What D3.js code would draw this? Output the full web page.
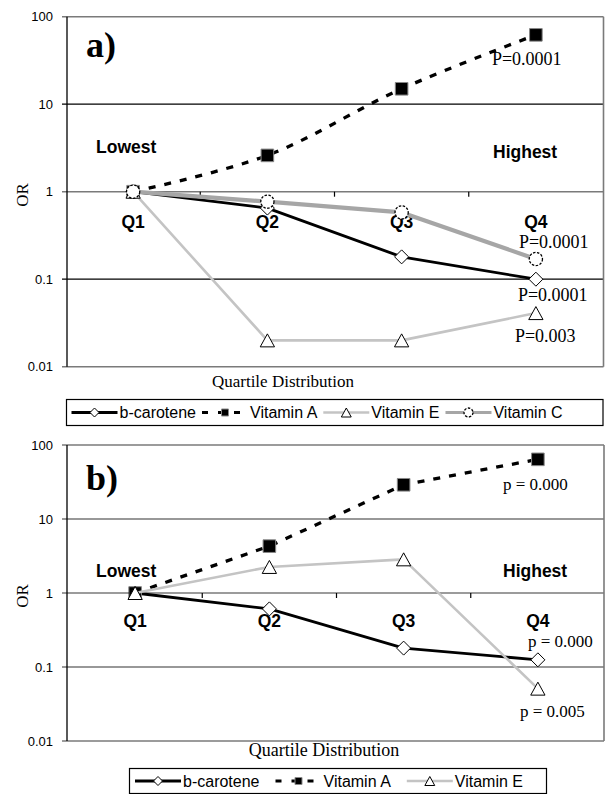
<!DOCTYPE html>
<html>
<head>
<meta charset="utf-8">
<script src="https://cdn.jsdelivr.net/npm/d3@7"></script>
<style>
  body { margin: 0; background: #fff; }
  .tick-label { font-family: "Liberation Sans", Arial, sans-serif; font-size: 13px; }
  .q-label, .end-label { font-family: "Liberation Sans", Arial, sans-serif; font-weight: bold; }
  .serif { font-family: "Liberation Serif", "Times New Roman", serif; }
  .legend-text { font-family: "Liberation Sans", Arial, sans-serif; }
</style>
</head>
<body>
<script>
// Categories and series values
const quartiles = ["Q1", "Q2", "Q3", "Q4"];
const yTicks = [0.01, 0.1, 1, 10, 100];
const yTickLabels = ["0.01", "0.1", "1", "10", "100"];

// Panel a)
const betaCaroteneA = [1, 0.65, 0.18, 0.1];
const vitaminAA = [1, 2.6, 15, 62];
const vitaminEA = [1, 0.02, 0.02, 0.041];
const vitaminCA = [1, 0.77, 0.58, 0.17];
const pValuesA = ["P=0.0001", "P=0.0001", "P=0.003", "P=0.0001"]; // b-car, vit A, vit E, vit C

// Panel b)
const betaCaroteneB = [1, 0.61, 0.18, 0.125];
const vitaminAB = [1, 4.3, 29, 64];
const vitaminEB = [1, 2.25, 2.85, 0.051];
const pValuesB = ["p = 0.000", "p = 0.000", "p = 0.005"];

const seriesNames = ["b-carotene", "Vitamin A", "Vitamin E", "Vitamin C"];

const svg = d3.select("body").append("svg")
    .attr("width", 605)
    .attr("height", 794);

// Marker shapes, all centred on the data point
const markerPaths = {
    diamond: s => `M0,${-s}L${s},0L0,${s}L${-s},0Z`,
    square: s => `M${-s},${-s}H${s}V${s}H${-s}Z`,
    triangle: s => `M0,${-s}L${s * 1.1},${s}L${-s * 1.1},${s}Z`
};

function drawMarker(g, type, x, y, s) {
    if (type === "circle") {
        g.append("circle")
            .attr("cx", x).attr("cy", y).attr("r", s)
            .attr("fill", "#fff").attr("stroke", "#000").attr("stroke-width", 1.3)
            .attr("stroke-dasharray", "2.5,1.5");
    } else if (type === "square") {
        g.append("path")
            .attr("transform", `translate(${x},${y})`)
            .attr("d", markerPaths.square(s))
            .attr("fill", "#000").attr("stroke", "#888").attr("stroke-width", 1);
    } else {
        g.append("path")
            .attr("transform", `translate(${x},${y})`)
            .attr("d", markerPaths[type](s))
            .attr("fill", "#fff").attr("stroke", "#000").attr("stroke-width", 1);
    }
}

const styles = {
    "b-carotene": { color: "#000", width: 2.8, dash: null, marker: "diamond", size: 7 },
    "Vitamin A": { color: "#000", width: 3.3, dash: "7,9", marker: "square", size: 6.3 },
    "Vitamin E": { color: "#c4c4c4", width: 2.6, dash: null, marker: "triangle", size: 6.5 },
    "Vitamin C": { color: "#a6a6a6", width: 4.2, dash: null, marker: "circle", size: 6.6 }
};

function drawPanel(cfg) {
    const g = svg.append("g");

    const x = d3.scaleBand().domain(quartiles).range(cfg.bandRange).padding(0);
    const y = d3.scaleLog().domain([0.01, 100]).range([cfg.bottom, cfg.top]);
    const cx = q => x(q) + x.bandwidth() / 2;

    // Horizontal gridlines (top/bottom are the plot border, 1 is the category axis)
    yTicks.forEach(t => {
        const edge = t === 100 || t === 0.01 || t === 1;
        g.append("line")
            .attr("x1", cfg.axisX - 5).attr("x2", cfg.right)
            .attr("y1", y(t)).attr("y2", y(t))
            .attr("stroke", edge ? "#7a7a7a" : cfg.gridColor)
            .attr("stroke-width", edge ? 1.6 : 1.2);
    });

    // Right border and value axis
    g.append("line")
        .attr("x1", cfg.right).attr("x2", cfg.right)
        .attr("y1", y(100)).attr("y2", y(0.01))
        .attr("stroke", "#7a7a7a").attr("stroke-width", 1.6);
    g.append("line")
        .attr("x1", cfg.axisX).attr("x2", cfg.axisX)
        .attr("y1", y(100)).attr("y2", y(0.01))
        .attr("stroke", "#000").attr("stroke-width", 1.3);

    // Category ticks between quartiles on the OR = 1 line
    quartiles.slice(1).forEach(q => {
        g.append("line")
            .attr("x1", x(q)).attr("x2", x(q))
            .attr("y1", y(1)).attr("y2", y(1) + 5)
            .attr("stroke", "#000").attr("stroke-width", 1.2);
    });

    // Value tick labels
    yTicks.forEach((t, i) => {
        g.append("text")
            .attr("class", "tick-label")
            .attr("x", cfg.axisX - 14).attr("y", y(t) + 4.5)
            .attr("text-anchor", "end")
            .text(yTickLabels[i]);
    });

    // Quartile labels under the OR = 1 line
    quartiles.forEach(q => {
        g.append("text")
            .attr("class", "q-label")
            .attr("x", cx(q)).attr("y", cfg.qBaseline)
            .attr("text-anchor", "middle")
            .style("font-size", "17.5px")
            .text(q);
    });

    // Lowest / Highest
    g.append("text").attr("class", "end-label")
        .attr("x", 96).attr("y", cfg.lowBaseline)
        .style("font-size", "17.5px").text("Lowest");
    g.append("text").attr("class", "end-label")
        .attr("x", cfg.highX).attr("y", cfg.highBaseline)
        .style("font-size", "17.5px").text("Highest");

    // Panel letter
    g.append("text").attr("class", "serif")
        .attr("x", 86).attr("y", cfg.letterBaseline)
        .style("font-size", "36px").style("font-weight", "bold")
        .text(cfg.letter);

    // Axis titles
    g.append("text").attr("class", "serif")
        .attr("transform", `translate(28, ${cfg.orY}) rotate(-90)`)
        .attr("text-anchor", "middle")
        .style("font-size", "17px")
        .text("OR");
    g.append("text").attr("class", "serif")
        .attr("x", cfg.xTitleX).attr("y", cfg.xTitleBaseline)
        .attr("text-anchor", "middle")
        .style("font-size", cfg.xTitleSize)
        .text("Quartile Distribution");

    // Series lines, then markers
    cfg.series.forEach(s => {
        const st = styles[s.name];
        const line = d3.line()
            .x((d, i) => cx(quartiles[i]))
            .y(d => y(d))
            .curve(s.smooth ? d3.curveCatmullRom.alpha(0.5) : d3.curveLinear);
        g.append("path")
            .datum(s.values)
            .attr("d", line)
            .attr("fill", "none")
            .attr("stroke", st.color)
            .attr("stroke-width", st.width)
            .attr("stroke-dasharray", st.dash)
            .attr("stroke-linejoin", "round");
        s.values.forEach((v, i) => drawMarker(g, st.marker, cx(quartiles[i]), y(v), st.size));
    });

    // p-value annotations next to the Q4 points
    cfg.pLabels.forEach(p => {
        g.append("text").attr("class", "serif")
            .attr("x", cx("Q4") + p.dx)
            .attr("y", y(p.value) + p.dy)
            .style("font-size", cfg.pSize)
            .text(p.text);
    });

    // Legend box
    const lg = g.append("g");
    lg.append("rect")
        .attr("x", cfg.legend.x).attr("y", cfg.legend.y)
        .attr("width", cfg.legend.w).attr("height", cfg.legend.h)
        .attr("fill", "#fff").attr("stroke", "#000").attr("stroke-width", 1.2);
    let lx = cfg.legend.x + cfg.legend.pad;
    const ly = cfg.legend.y + cfg.legend.h / 2;
    cfg.series.forEach(s => {
        const st = styles[s.name];
        lg.append("line")
            .attr("x1", lx).attr("x2", lx + 46)
            .attr("y1", ly).attr("y2", ly)
            .attr("stroke", st.color)
            .attr("stroke-width", Math.min(st.width, 3))
            .attr("stroke-dasharray", st.dash ? "6,10" : null);
        drawMarker(lg, st.marker, lx + 23, ly, st.marker === "square" ? 3.5 : 4.5);
        const t = lg.append("text")
            .attr("class", "legend-text")
            .attr("x", lx + 48).attr("y", ly + 5.5)
            .style("font-size", cfg.legend.fontSize)
            .text(s.name);
        lx = lx + 48 + t.node().getComputedTextLength() + cfg.legend.gap;
    });
}

drawPanel({
    letter: "a)",
    top: 16.7, bottom: 366.7, axisX: 67, right: 603.5, bandRange: [66, 603],
    gridColor: "#000",
    qBaseline: 228, lowBaseline: 153, highX: 493, highBaseline: 158,
    letterBaseline: 57, orY: 195,
    xTitleX: 283, xTitleBaseline: 387, xTitleSize: "17px",
    series: [
        { name: seriesNames[0], values: betaCaroteneA },
        { name: seriesNames[1], values: vitaminAA, smooth: true },
        { name: seriesNames[2], values: vitaminEA },
        { name: seriesNames[3], values: vitaminCA }
    ],
    pSize: "18px",
    pLabels: [
        { text: pValuesA[1], value: vitaminAA[3], dx: -44, dy: 30 },
        { text: pValuesA[3], value: vitaminCA[3], dx: -17, dy: -11 },
        { text: pValuesA[0], value: betaCaroteneA[3], dx: -18, dy: 22 },
        { text: pValuesA[2], value: vitaminEA[3], dx: -21, dy: 29 }
    ],
    legend: { x: 66.5, y: 399.5, w: 536.5, h: 26, pad: 5, gap: 6, fontSize: "16px" }
});

drawPanel({
    letter: "b)",
    top: 445, bottom: 741, axisX: 67, right: 604, bandRange: [68, 605],
    gridColor: "#333",
    qBaseline: 627, lowBaseline: 577, highX: 503, highBaseline: 577,
    letterBaseline: 490, orY: 596,
    xTitleX: 324, xTitleBaseline: 756, xTitleSize: "18px",
    series: [
        { name: seriesNames[0], values: betaCaroteneB },
        { name: seriesNames[1], values: vitaminAB },
        { name: seriesNames[2], values: vitaminEB }
    ],
    pSize: "17px",
    pLabels: [
        { text: pValuesB[1], value: vitaminAB[3], dx: -35, dy: 31 },
        { text: pValuesB[0], value: betaCaroteneB[3], dx: -10, dy: -13 },
        { text: pValuesB[2], value: vitaminEB[3], dx: -18, dy: 28 }
    ],
    legend: { x: 129.5, y: 768.5, w: 417, h: 25, pad: 5.5, gap: 16, fontSize: "16px" }
});
</script>
</body>
</html>
